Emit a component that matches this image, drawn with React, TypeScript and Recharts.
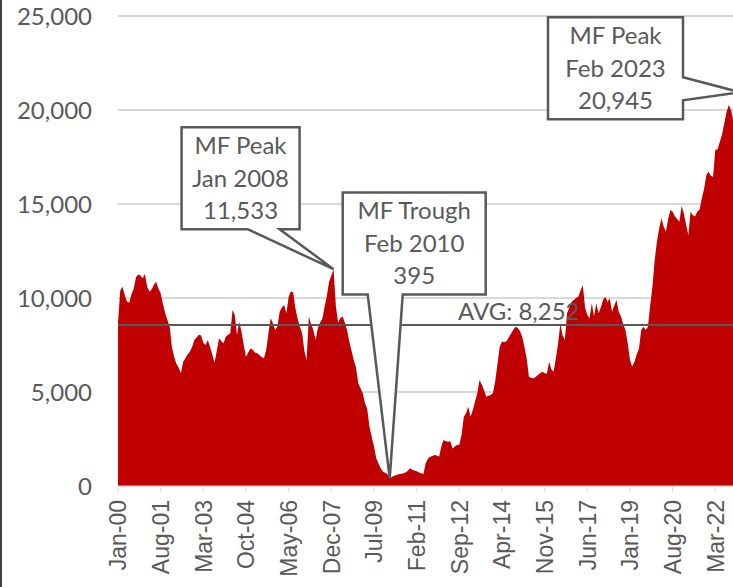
import React from "react";
import {
	AreaChart,
	Area,
	XAxis,
	YAxis,
	CartesianGrid,
	ReferenceLine,
	ReferenceDot,
} from "recharts";

// monthly values, Jan 2000 .. Feb 2023
const values = [
	8700, 10400, 10600, 10160, 9800, 9750, 10200, 10500, 11100, 11250,
	11200, 11050, 11280, 10600, 10340, 10450, 10700, 10870, 10500, 10250,
	9700, 9200, 8830, 8500, 7400, 6880, 6500, 6300, 6000, 6600,
	6800, 7000, 7140, 7400, 7770, 7900, 8050, 8000, 7600, 7500,
	7770, 7400, 7000, 6560, 7200, 7860, 7700, 7590, 7940, 8050,
	8120, 9360, 9100, 8030, 8740, 8200, 7500, 6880, 7100, 7320,
	7250, 7100, 7060, 6970, 6850, 6790, 7230, 8120, 8920, 8660,
	8300, 8500, 9270, 9500, 9630, 9190, 10070, 10340, 10300, 9450,
	8900, 8470, 8120, 7200, 6700, 9010, 8600, 8300, 7770, 8390,
	8700, 8900, 9540, 10100, 10870, 11200, 11533, 9600, 8700, 8920,
	9010, 8700, 8300, 7680, 7200, 6700, 6300, 5460, 5200, 4930,
	4400, 4100, 3150, 2600, 2100, 1470, 1200, 950, 760, 700,
	620, 395, 480, 550, 585, 620, 650, 670, 720, 800,
	940, 870, 820, 780, 720, 680, 640, 1200, 1450, 1560,
	1600, 1650, 1620, 1560, 2100, 2450, 2380, 2360, 2380, 2000,
	2100, 2180, 2200, 2710, 3690, 3870, 4220, 3690, 4040, 4500,
	4930, 5640, 5400, 5100, 4750, 4800, 4840, 4950, 5600, 6500,
	7410, 7680, 7650, 7700, 7900, 8100, 8300, 8470, 8400, 8250,
	7940, 7400, 6800, 5810, 5750, 5730, 5800, 5900, 6000, 6080,
	6000, 5990, 6610, 6200, 6080, 6800, 7590, 8650, 8000, 7770,
	9190, 9500, 9800, 9890, 10000, 10070, 10400, 10690, 9500, 9100,
	8920, 9720, 9010, 9720, 9190, 9500, 9900, 10070, 9800, 9980,
	9270, 9600, 9890, 9270, 9010, 8600, 8300, 7590, 6700, 6350,
	6610, 7000, 7300, 8300, 8470, 8300, 8470, 9600, 10600, 12020,
	13000, 13700, 14240, 13800, 13530, 14200, 14680, 14590, 14350, 14200,
	14060, 14890, 14500, 13900, 13350, 14590, 14400, 14330, 14600, 14700,
	15300, 15800, 16540, 16720, 16500, 16450, 17870, 17910, 18300, 18700,
	19290, 19900, 20270, 20000, 19470, 19900, 20400, 20945,
];

const tickIndex = [0, 19, 38, 57, 76, 95, 114, 133, 152, 171, 190, 209, 228, 247, 266];
const tickLabels = [
	"Jan-00", "Aug-01", "Mar-03", "Oct-04", "May-06", "Dec-07", "Jul-09", "Feb-11",
	"Sep-12", "Apr-14", "Nov-15", "Jun-17", "Jan-19", "Aug-20", "Mar-22",
];
const yTicks = [0, 5000, 10000, 15000, 20000, 25000];

const avgLine = 8560;
const avgLabel = "AVG: 8,252";

const peak1 = { i: 96, v: 11533, lines: ["MF Peak", "Jan 2008", "11,533"] };
const trough = { i: 121, v: 395, lines: ["MF Trough", "Feb 2010", "395"] };
const peak2 = { i: 277, v: 20945, lines: ["MF Peak", "Feb 2023", "20,945"] };

const data = values.map((v, i) => ({ i, v }));

const GREY = "#595959";
const FONT = "Lato, 'Open Sans', sans-serif";

const XTick = ({ x, y, payload }: any) => {
	const label = tickLabels[tickIndex.indexOf(payload.value)];
	return (
		<text
			x={x}
			y={y}
			transform={`rotate(-90, ${x}, ${y})`}
			textAnchor="end"
			dy="0.36em"
			fill={GREY}
			fontSize={23}
			fontFamily="'Liberation Sans', Arial, sans-serif"
		>
			{label}
		</text>
	);
};

// box + wedge pointing at (cx, cy)
const Callout = ({ cx, cy, box, base, side, lines }: any) => {
	const L = cx + box[0];
	const R = cx + box[1];
	const T = cy + box[2];
	const B = cy + box[3];
	let d;
	if (side === "bottom") {
		d = `M${L},${T} H${R} V${B} H${cx + base[1]} L${cx},${cy} L${cx + base[0]},${B} H${L} Z`;
	} else {
		d = `M${L},${T} H${R} V${cy + base[0]} L${cx},${cy} L${R},${cy + base[1]} V${B} H${L} Z`;
	}
	const mid = (L + R) / 2;
	const midY = (T + B) / 2;
	return (
		<g>
			<path d={d} fill="#fff" stroke={GREY} strokeWidth={2.5} strokeLinejoin="miter" />
			{lines.map((t: string, k: number) => (
				<text
					key={k}
					x={mid}
					y={midY + (k - 1) * 32.5}
					dy="0.35em"
					textAnchor="middle"
					fill={GREY}
					fontSize={24}
					fontFamily={FONT}
				>
					{t}
				</text>
			))}
		</g>
	);
};

export default function App() {
	return (
		<div
			style={{
				position: "absolute",
				left: 0,
				top: 0,
				width: 733,
				height: 587,
				overflow: "hidden",
				background: "#fff",
			}}
		>
			<div style={{ position: "absolute", left: 0, top: 0, width: 2, height: 587, background: "#404040", zIndex: 2 }} />
			<AreaChart width={760} height={587} data={data} margin={{ top: 16, right: 20, bottom: 0, left: 0 }}>
				<CartesianGrid vertical={false} stroke="#d9d9d9" strokeWidth={2} />
				<XAxis
					dataKey="i"
					type="number"
					domain={[0, 277]}
					ticks={tickIndex}
					interval={0}
					height={101}
					stroke="#d9d9d9"
					tickSize={6}
					tickMargin={8}
					tick={<XTick />}
				/>
				<YAxis
					domain={[0, 25000]}
					ticks={yTicks}
					width={118}
					axisLine={false}
					tickLine={false}
					tickSize={0}
					tickMargin={26}
					tick={{ fill: GREY, fontSize: 24, fontFamily: FONT }}
					tickFormatter={(v: number) => v.toLocaleString("en-US")}
				/>
				<Area
					type="linear"
					dataKey="v"
					stroke="none"
					fill="#c00000"
					fillOpacity={1}
					isAnimationActive={false}
				/>
				<ReferenceLine
					y={avgLine}
					stroke={GREY}
					strokeWidth={2}
					label={(p: any) => (
						<text
							x={p.viewBox.x + 340}
							y={p.viewBox.y - 5}
							fill={GREY}
							fontSize={24}
							fontFamily={FONT}
						>
							{avgLabel}
						</text>
					)}
				/>
				<ReferenceDot
					x={peak1.i}
					y={peak1.v}
					ifOverflow="visible"
					shape={(p: any) => (
						<Callout cx={p.cx} cy={p.cy} box={[-152, -34, -142, -40]} base={[-86, -54]} side="bottom" lines={peak1.lines} />
					)}
				/>
				<ReferenceDot
					x={trough.i}
					y={trough.v}
					ifOverflow="visible"
					shape={(p: any) => (
						<Callout cx={p.cx} cy={p.cy} box={[-47, 96, -286, -184]} base={[-22, 13]} side="bottom" lines={trough.lines} />
					)}
				/>
				<ReferenceDot
					x={peak2.i}
					y={peak2.v}
					ifOverflow="visible"
					shape={(p: any) => (
						<Callout cx={p.cx} cy={p.cy} box={[-192, -57, -75, 27]} base={[-15, 8]} side="right" lines={peak2.lines} />
					)}
				/>
			</AreaChart>
		</div>
	);
}
